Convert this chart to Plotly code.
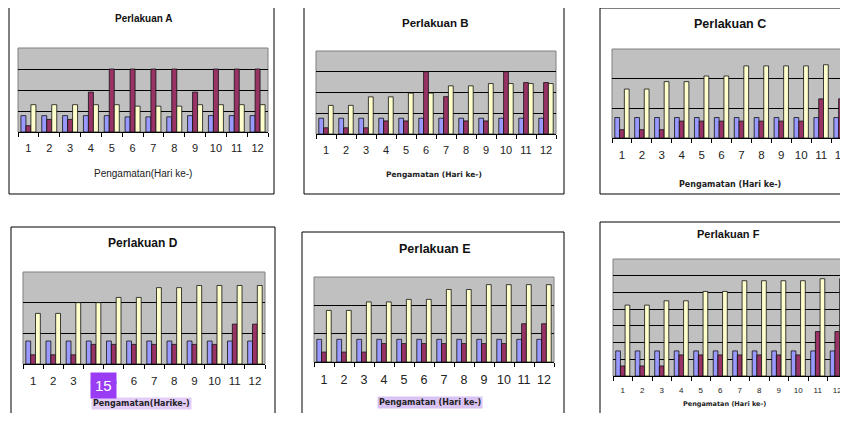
import plotly.graph_objects as go

# page has an 8px body margin; figure coordinates are reference pixels minus OFF
OFF = 8
W, H = 848 - OFF, 421 - 2 * OFF

days = ["1", "2", "3", "4", "5", "6", "7", "8", "9", "10", "11", "12"]

a_blue = [0.78, 0.78, 0.78, 0.78, 0.78, 0.72, 0.72, 0.72, 0.78, 0.78, 0.78, 0.78]
a_maroon = [0.3, 0.6, 0.6, 1.9, 3.0, 3.0, 3.0, 3.0, 1.9, 3.0, 3.0, 3.0]
a_yellow = [1.3, 1.3, 1.3, 1.3, 1.3, 1.23, 1.23, 1.23, 1.3, 1.3, 1.3, 1.3]

b_blue = [0.76, 0.76, 0.76, 0.76, 0.76, 0.76, 0.76, 0.76, 0.76, 0.76, 0.76, 0.76]
b_maroon = [0.3, 0.3, 0.3, 0.63, 0.63, 3.0, 1.8, 0.63, 0.63, 3.0, 2.48, 2.48]
b_yellow = [1.38, 1.38, 1.79, 1.79, 1.97, 1.97, 2.32, 2.32, 2.43, 2.43, 2.43, 2.43]

c_blue = [0.69, 0.69, 0.69, 0.69, 0.69, 0.69, 0.69, 0.69, 0.69, 0.69, 0.69, 0.69]
c_maroon = [0.28, 0.28, 0.28, 0.57, 0.57, 0.57, 0.57, 0.57, 0.57, 0.57, 1.32, 1.32]
c_yellow = [1.65, 1.65, 1.9, 1.9, 2.09, 2.09, 2.43, 2.43, 2.43, 2.43, 2.47, 2.47]

d_blue = [0.75, 0.75, 0.75, 0.75, 0.75, 0.75, 0.75, 0.75, 0.75, 0.75, 0.75, 0.75]
d_maroon = [0.3, 0.3, 0.3, 0.64, 0.64, 0.64, 0.64, 0.64, 0.64, 0.64, 1.3, 1.3]
d_yellow = [1.65, 1.65, 2.0, 2.0, 2.17, 2.17, 2.49, 2.49, 2.56, 2.56, 2.56, 2.56]

e_blue = [0.8, 0.8, 0.8, 0.8, 0.8, 0.8, 0.8, 0.8, 0.8, 0.8, 0.8, 0.8]
e_maroon = [0.35, 0.35, 0.35, 0.65, 0.65, 0.65, 0.65, 0.65, 0.65, 0.65, 1.35, 1.35]
e_yellow = [1.82, 1.82, 2.12, 2.12, 2.21, 2.21, 2.56, 2.56, 2.73, 2.73, 2.73, 2.73]

f_blue = [1.5, 1.5, 1.5, 1.5, 1.5, 1.5, 1.5, 1.5, 1.5, 1.5, 1.5, 1.5]
f_maroon = [0.6, 0.6, 0.6, 1.26, 1.26, 1.26, 1.26, 1.26, 1.26, 1.26, 2.66, 2.66]
f_yellow = [4.24, 4.24, 4.5, 4.5, 5.06, 5.06, 5.7, 5.7, 5.7, 5.7, 5.82, 5.82]

titles = ["Perlakuan A", "Perlakuan B", "Perlakuan C", "Perlakuan D", "Perlakuan E", "Perlakuan F"]
xtitles = ["Pengamatan(Hari ke-)", "Pengamatan (Hari ke-)", "Pengamatan (Hari ke-)",
           "Pengamatan(Harike-)", "Pengamatan (Hari ke-)", "Pengamatan (Hari ke-)"]

FONT = "Liberation Sans, Arial, sans-serif"
WIDEFONT = "DejaVu Sans, Verdana, sans-serif"
BLUE, MAROON, YELLOW = "#9999FF", "#993366", "#FFFFCC"


def fx(px):
    return min(max((px - OFF) / W, 0), 1)


def fy(py):
    return min(max(1 - (py - OFF) / H, 0), 1)


def fxu(px):
    return (px - OFF) / W


def fyu(py):
    return 1 - (py - OFF) / H


panels = [
    dict(data=(a_blue, a_maroon, a_yellow), plot=(18, 268, 48, 132), yr=4, xr=11.5,
         box=(9, 274, 6, 194), tpos=(143, 19), tsize=10, ticksz=11, xtpos=(143, 173), xtsz=10, xtb=False),
    dict(data=(b_blue, b_maroon, b_yellow), plot=(316, 556, 51, 134), yr=4, xr=11.5,
         box=(304, 564, 7, 194), tpos=(435, 23), tsize=11.5, ticksz=11, xtpos=(434, 174), xtsz=7.5, xtb=True),
    dict(data=(c_blue, c_maroon, c_yellow), plot=(612, 848, 49, 138), yr=3, xr=11.35,
         box=(600, 860, 8, 194), tpos=(730, 24), tsize=12.5, ticksz=11.5, xtpos=(730, 184), xtsz=8, xtb=True),
    dict(data=(d_blue, d_maroon, d_yellow), plot=(23, 265, 272, 364), yr=3, xr=11.5,
         box=(11, 275, 227, 440), tpos=(143, 243), tsize=12, ticksz=11.5, xtpos=(141, 403), xtsz=8, xtb=True),
    dict(data=(e_blue, e_maroon, e_yellow), plot=(314, 554, 277, 362), yr=3, xr=11.5,
         box=(302, 564, 232, 440), tpos=(435, 249), tsize=12.5, ticksz=12.5, xtpos=(430, 402), xtsz=8, xtb=True),
    dict(data=(f_blue, f_maroon, f_yellow), plot=(613, 847, 259, 376), yr=7, xr=11.5,
         box=(600, 860, 222, 417), tpos=(728, 234), tsize=11, ticksz=8, xtpos=(724, 404), xtsz=6.5, xtb=True),
]

fig = go.Figure()
shapes = []
annotations = []

for i, p in enumerate(panels):
    k = "" if i == 0 else str(i + 1)
    xa, ya = "x" + k, "y" + k
    for vals, col in zip(p["data"], (BLUE, MAROON, YELLOW)):
        fig.add_trace(go.Bar(x=days, y=vals, xaxis=xa, yaxis=ya,
                             marker=dict(color=col, line=dict(color="#111111", width=0.8)),
                             showlegend=False, hoverinfo="skip"))
    x0, x1, y0, y1 = p["plot"]
    fig.layout["xaxis" + k] = dict(
        domain=[fx(x0), fx(x1)], anchor=ya, type="category", range=[-0.5, p["xr"]],
        tickson="boundaries", ticks="outside", ticklen=4, tickcolor="#000", tickwidth=1,
        showline=True, linecolor="#000", linewidth=1, showgrid=False, tickangle=0,
        tickfont=dict(family=FONT, size=p["ticksz"], color="#222"), ticklabelstandoff=6,
    )
    fig.layout["yaxis" + k] = dict(
        domain=[fy(y1), fy(y0)], anchor=xa, range=[0, p["yr"]],
        tickvals=list(range(1, p["yr"])), showticklabels=False, ticks="",
        showgrid=True, gridcolor="#000", gridwidth=1, zeroline=False, showline=False,
    )
    shapes.append(dict(type="rect", xref=xa + " domain", yref=ya + " domain", x0=0, x1=1, y0=0, y1=1,
                       line=dict(color="#808080", width=1), layer="below"))
    bx0, bx1, by0, by1 = p["box"]
    shapes.append(dict(type="rect", xref="paper", yref="paper", x0=fxu(bx0), x1=fxu(bx1), y0=fyu(by1), y1=fyu(by0),
                       line=dict(color="#000", width=1)))
    annotations.append(dict(text="<b>%s</b>" % titles[i], xref="paper", yref="paper",
                            x=fxu(p["tpos"][0]), y=fyu(p["tpos"][1]),
                            xanchor="center", yanchor="middle", showarrow=False,
                            font=dict(family=FONT, size=p["tsize"], color="#111")))
    if p["xtb"]:
        txt, fam = "<b>%s</b>" % xtitles[i], WIDEFONT
    else:
        txt, fam = xtitles[i], FONT
    ann = dict(text=txt, xref="paper", yref="paper", x=fxu(p["xtpos"][0]), y=fyu(p["xtpos"][1]),
               xanchor="center", yanchor="middle", showarrow=False,
               font=dict(family=fam, size=p["xtsz"], color="#222"))
    if i == 3:
        ann["bgcolor"] = "#E3CDF8"
    if i == 4:
        ann["bgcolor"] = "#D9C2F4"
    annotations.append(ann)

annotations.append(dict(text="15", xref="paper", yref="paper", x=fxu(103.5), y=fyu(385),
                        xanchor="center", yanchor="middle",
                        showarrow=False, bgcolor="#9B3CF5", borderpad=4,
                        font=dict(family=FONT, size=15, color="#FFFFFF")))

fig.update_layout(
    width=W, height=H, margin=dict(l=0, r=0, t=0, b=0),
    paper_bgcolor="#FFFFFF", plot_bgcolor="#C0C0C0",
    barmode="group", bargap=0.28, bargroupgap=0,
    shapes=shapes, annotations=annotations, showlegend=False,
)

fig.write_html("out.html")
